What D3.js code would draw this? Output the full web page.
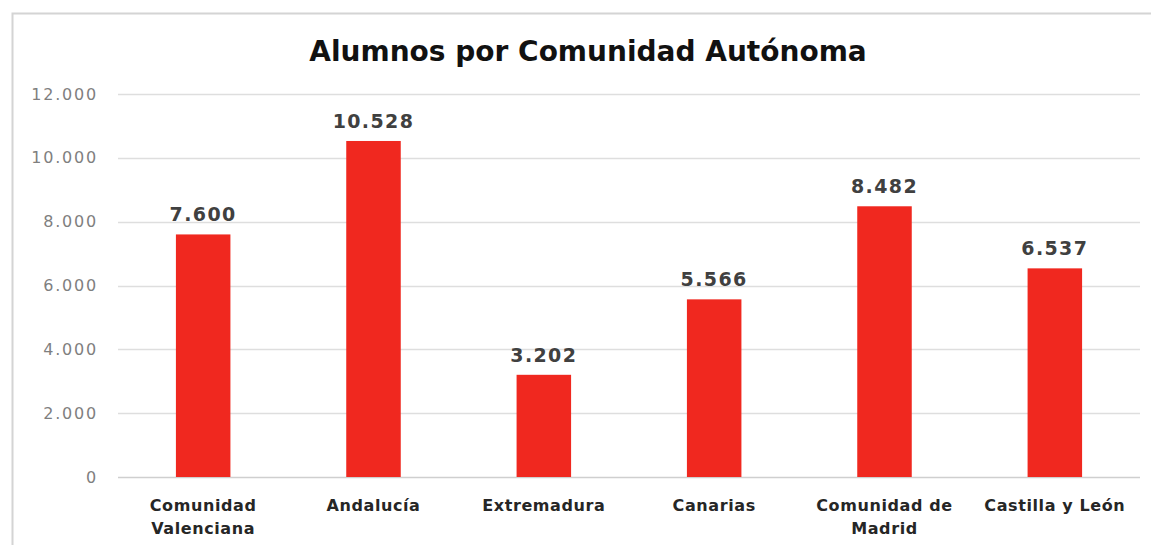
<!DOCTYPE html>
<html>
<head>
<meta charset="utf-8">
<script src="https://cdn.jsdelivr.net/npm/d3@7"></script>
<style>
  body { margin: 0; background: #fff; }
  svg { display: block; font-family: "DejaVu Sans", sans-serif; }
</style>
</head>
<body>
<svg id="chart" width="1151" height="545"></svg>
<script>
'use strict';

// data
const regions = ['Comunidad Valenciana', 'Andalucía', 'Extremadura', 'Canarias', 'Comunidad de Madrid', 'Castilla y León'];
const regionLines = [['Comunidad', 'Valenciana'], ['Andalucía'], ['Extremadura'], ['Canarias'], ['Comunidad de', 'Madrid'], ['Castilla y León']];
const alumnos = [7600, 10528, 3202, 5566, 8482, 6537];
const yTicks = [0, 2000, 4000, 6000, 8000, 10000, 12000];

const es = d3.formatLocale({decimal: ',', thousands: '.', grouping: [3], currency: ['', '€']});
const fmt = es.format(',d');

const svg = d3.select('#chart');
const width = 1151, height = 545;
const margin = {top: 94, right: 11, bottom: 68, left: 118};

// frame
svg.append('path')
  .attr('d', `M12.5,${height} V13.5 H${width}`)
  .attr('fill', 'none')
  .attr('stroke', '#d4d4d4')
  .attr('stroke-width', 2);

let x = d3.scaleBand()
  .domain(regions)
  .range([margin.left, width - margin.right])
  .paddingInner(0.68)
  .paddingOuter(0.34);

let y = d3.scaleLinear()
  .domain([0, 12000])
  .range([height - margin.bottom, margin.top]);

// gridlines
svg.append('g')
  .selectAll('line')
  .data(yTicks)
  .enter().append('line')
    .attr('x1', margin.left)
    .attr('x2', width - margin.right)
    .attr('y1', d => Math.round(y(d)) + 0.5)
    .attr('y2', d => Math.round(y(d)) + 0.5)
    .attr('stroke', d => d === 0 ? '#cfcfcf' : '#dedede')
    .attr('stroke-width', 1.3);

// y axis labels
let yAxis = d3.axisLeft(y).tickValues(yTicks).tickFormat(fmt).tickSize(0).tickPadding(20);
let gy = svg.append('g')
  .attr('transform', `translate(${margin.left},0)`)
  .call(yAxis);
gy.select('.domain').remove();
gy.selectAll('text')
  .attr('font-family', '"DejaVu Sans", sans-serif')
  .attr('font-size', 16)
  .attr('letter-spacing', 1.8)
  .attr('fill', '#7f7f7f');

// bars
svg.append('g')
  .selectAll('rect')
  .data(alumnos)
  .enter().append('rect')
    .attr('x', (d, i) => x(regions[i]))
    .attr('width', x.bandwidth())
    .attr('y', d => y(d))
    .attr('height', d => y(0) - y(d))
    .attr('fill', '#f0281f');

// value labels
svg.append('g')
  .selectAll('text')
  .data(alumnos)
  .enter().append('text')
    .attr('x', (d, i) => x(regions[i]) + x.bandwidth() / 2)
    .attr('y', d => y(d) - 13)
    .attr('text-anchor', 'middle')
    .attr('font-size', 19)
    .attr('font-weight', 'bold')
    .attr('letter-spacing', 1.4)
    .attr('fill', '#404040')
    .text(d => fmt(d));

// category labels
let cats = svg.append('g')
  .selectAll('text')
  .data(regionLines)
  .enter().append('text')
    .attr('x', (d, i) => x(regions[i]) + x.bandwidth() / 2)
    .attr('y', 511)
    .attr('text-anchor', 'middle')
    .attr('font-size', 16)
    .attr('font-weight', 'bold')
    .attr('letter-spacing', 0.6)
    .attr('fill', '#262626');

cats.selectAll('tspan')
  .data(d => d)
  .enter().append('tspan')
    .attr('x', function () { return this.parentNode.getAttribute('x'); })
    .attr('dy', (d, i) => i === 0 ? 0 : 23)
    .text(d => d);

// title
svg.append('text')
  .attr('x', 588)
  .attr('y', 61)
  .attr('text-anchor', 'middle')
  .attr('font-size', 28)
  .attr('font-weight', 'bold')
  .attr('fill', '#111')
  .text('Alumnos por Comunidad Autónoma');
</script>
</body>
</html>
